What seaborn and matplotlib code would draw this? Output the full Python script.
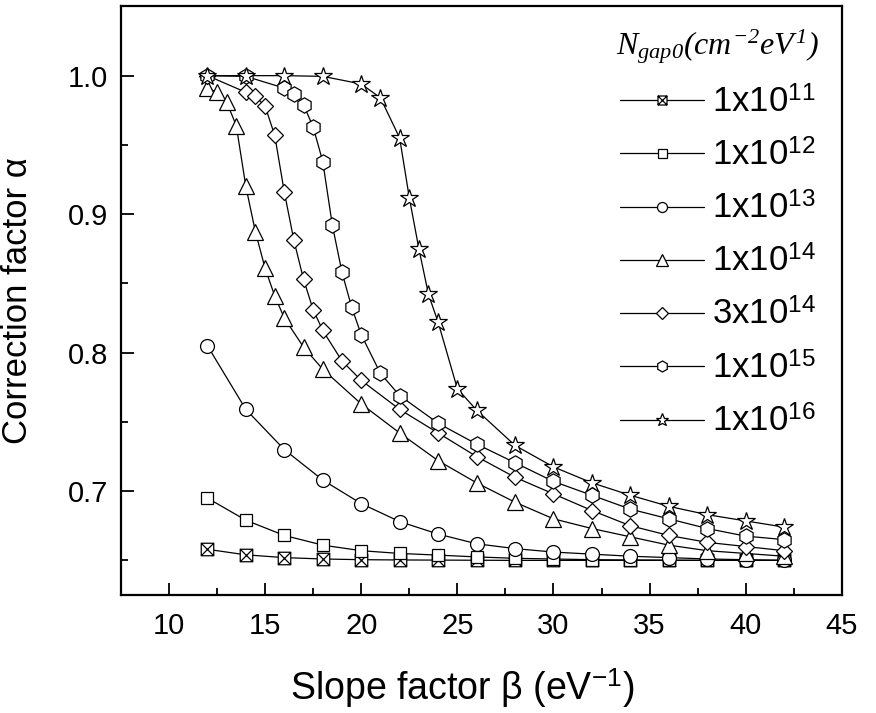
import numpy as np
import pandas as pd
import matplotlib
matplotlib.use('Agg')
import matplotlib.pyplot as plt
from matplotlib.path import Path
import seaborn as sns

# slope factor beta (eV^-1) and correction factor alpha, one pair per N_gap0
beta_11 = [12, 14, 16, 18, 20, 22, 24, 26, 28, 30, 32, 34, 36, 38, 40, 42]
alpha_11 = [0.658, 0.654, 0.652, 0.651, 0.6505, 0.6503, 0.6502, 0.6501, 0.650, 0.650,
            0.650, 0.650, 0.650, 0.650, 0.650, 0.650]

beta_12 = [12, 14, 16, 18, 20, 22, 24, 26, 28, 30, 32, 34, 36, 38, 40, 42]
alpha_12 = [0.695, 0.679, 0.668, 0.661, 0.657, 0.655, 0.6538, 0.6525, 0.6515, 0.651,
            0.6505, 0.6503, 0.6502, 0.650, 0.650, 0.650]

beta_13 = [12, 14, 16, 18, 20, 22, 24, 26, 28, 30, 32, 34, 36, 38, 40, 42]
alpha_13 = [0.805, 0.759, 0.730, 0.708, 0.691, 0.678, 0.669, 0.662, 0.6585, 0.656,
            0.6545, 0.653, 0.652, 0.651, 0.6505, 0.650]

beta_14 = [12, 12.5, 13, 13.5, 14, 14.5, 15, 15.5, 16, 17, 18, 20, 22, 24, 26, 28,
           30, 32, 34, 36, 38, 40, 42]
alpha_14 = [0.991, 0.988, 0.981, 0.964, 0.920, 0.887, 0.861, 0.841, 0.825, 0.804,
            0.788, 0.763, 0.742, 0.722, 0.706, 0.692, 0.680, 0.673, 0.667, 0.661,
            0.657, 0.655, 0.653]

beta_3e14 = [12, 14, 14.5, 15, 15.5, 16, 16.5, 17, 17.5, 18, 19, 20, 22, 24, 26, 28,
             30, 32, 34, 36, 38, 40, 42]
alpha_3e14 = [1.0, 0.988, 0.985, 0.978, 0.957, 0.916, 0.881, 0.853, 0.831, 0.816,
              0.794, 0.780, 0.759, 0.742, 0.725, 0.710, 0.698, 0.686, 0.675, 0.668,
              0.663, 0.660, 0.657]

beta_15 = [12, 14, 16, 16.5, 17, 17.5, 18, 18.5, 19, 19.5, 20, 21, 22, 24, 26, 28,
           30, 32, 34, 36, 38, 40, 42]
alpha_15 = [1.0, 0.9995, 0.991, 0.987, 0.979, 0.963, 0.938, 0.892, 0.858, 0.833,
            0.813, 0.785, 0.769, 0.749, 0.734, 0.7205, 0.707, 0.697, 0.687, 0.680,
            0.673, 0.6675, 0.665]

beta_16 = [12, 14, 16, 18, 20, 21, 22, 22.5, 23, 23.5, 24, 25, 26, 28, 30, 32, 34,
           36, 38, 40, 42]
alpha_16 = [1.0, 1.0, 1.0, 0.9995, 0.994, 0.984, 0.955, 0.912, 0.875, 0.842, 0.822,
            0.774, 0.7585, 0.733, 0.7175, 0.706, 0.697, 0.689, 0.683, 0.6785, 0.674]

labels = [r'1x10$^{\mathsf{11}}$', r'1x10$^{\mathsf{12}}$', r'1x10$^{\mathsf{13}}$',
          r'1x10$^{\mathsf{14}}$', r'3x10$^{\mathsf{14}}$', r'1x10$^{\mathsf{15}}$',
          r'1x10$^{\mathsf{16}}$']

# square with an X inside
crossed_sq = Path([(-1, -1), (1, -1), (1, 1), (-1, 1), (-1, -1),
                   (-1, -1), (1, 1), (-1, 1), (1, -1)],
                  [Path.MOVETO, Path.LINETO, Path.LINETO, Path.LINETO, Path.CLOSEPOLY,
                   Path.MOVETO, Path.LINETO, Path.MOVETO, Path.LINETO])

series = [
    (beta_11, alpha_11, crossed_sq, 9),
    (beta_12, alpha_12, 's', 9),
    (beta_13, alpha_13, 'o', 10),
    (beta_14, alpha_14, '^', 11.5),
    (beta_3e14, alpha_3e14, 'D', 8.2),
    (beta_15, alpha_15, 'h', 11),
    (beta_16, alpha_16, '*', 13.5),
]

sns.set_theme(style='ticks')
plt.rcParams['font.family'] = ['Liberation Sans', 'DejaVu Sans']
plt.rcParams['mathtext.fontset'] = 'custom'
plt.rcParams['mathtext.rm'] = 'Liberation Serif:italic'
plt.rcParams['mathtext.it'] = 'Liberation Serif:italic'
plt.rcParams['mathtext.sf'] = 'Liberation Sans'
for k in ['text.color', 'axes.labelcolor', 'xtick.color', 'ytick.color', 'axes.edgecolor']:
    plt.rcParams[k] = 'black'

fig = plt.figure(figsize=(8.76, 7.13), dpi=100)
ax = fig.add_axes([0.138, 0.1655, 0.823, 0.8255])

for (b, a, m, ms), lab in zip(series, labels):
    df = pd.DataFrame({'beta': b, 'alpha': a})
    sns.lineplot(data=df, x='beta', y='alpha', ax=ax, color='black', linewidth=0.9,
                 marker=m, markersize=ms, markerfacecolor='white',
                 markeredgecolor='black', markeredgewidth=0.9, label=lab)

ax.set_xlim(7.5, 44.5)
ax.set_ylim(0.625, 1.05)
ax.set_xticks([10, 15, 20, 25, 30, 35, 40, 45])
ax.set_yticks([0.7, 0.8, 0.9, 1.0])
ax.xaxis.set_minor_locator(matplotlib.ticker.MultipleLocator(2.5))
ax.yaxis.set_minor_locator(matplotlib.ticker.MultipleLocator(0.05))
ax.tick_params(which='major', direction='in', length=9, width=1.3, labelsize=21)
ax.tick_params(axis='x', which='major', pad=12)
ax.tick_params(axis='y', which='major', pad=9)
ax.tick_params(which='minor', direction='in', length=5, width=1.3)
for s in ax.spines.values():
    s.set_linewidth(1.6)
    s.set_visible(True)

ax.set_xlabel(r'Slope factor β (eV$^{\mathsf{-1}}$)', fontsize=27)
ax.set_ylabel('Correction factor α', fontsize=25)
ax.xaxis.set_label_coords(0.473, -0.122)
ax.yaxis.set_label_coords(-0.121, 0.5)

leg = ax.legend(loc='upper right', bbox_to_anchor=(0.984, 0.888), frameon=False,
                fontsize=25, markerscale=0.72, handlelength=2.4, handletextpad=0.25,
                labelspacing=0.58, borderaxespad=0.0)
ax.text(0.827, 0.932, r'$N_{gap0}(cm^{-2}eV^{1})$', transform=ax.transAxes,
        fontsize=23, ha='center', va='center')

plt.savefig('out.png', dpi=100)
